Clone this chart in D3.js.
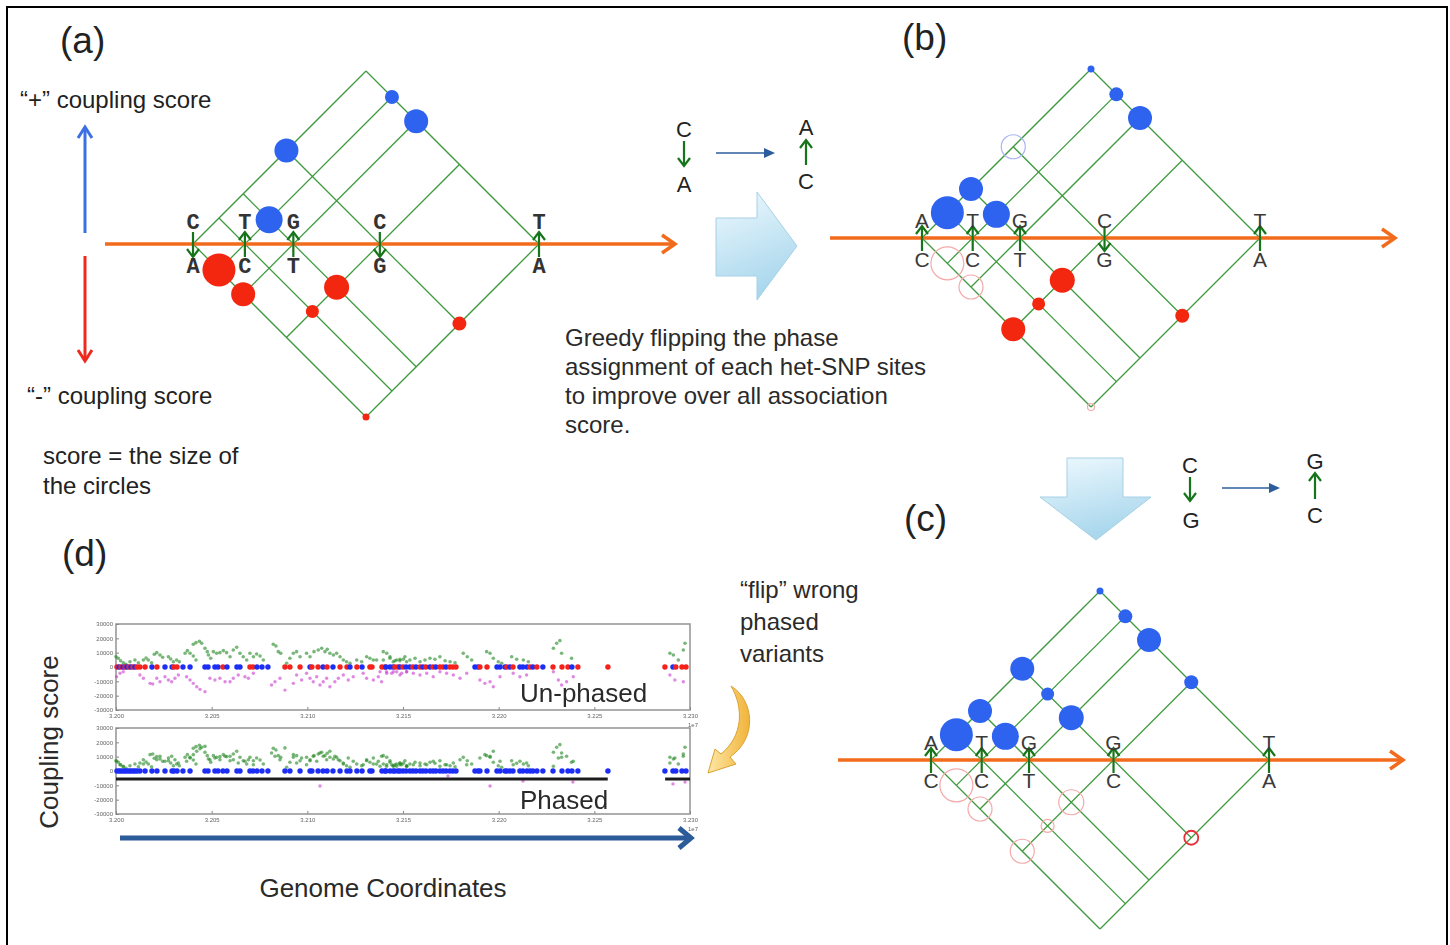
<!DOCTYPE html>
<html>
<head>
<meta charset="utf-8">
<script src="https://cdn.jsdelivr.net/npm/d3@7"></script>
<style>
  body { margin: 0; background: #fff; }
  svg text { font-family: "Liberation Sans", Arial, Helvetica, sans-serif; fill: #222; }
</style>
</head>
<body>
<svg id="fig" width="1450" height="945"></svg>
<script>
// ---------------- data ----------------
// relative positions (kb) of the five het-SNP sites
const snpPos = [0, 15, 29, 54, 100];
// alleles shown above / below the reference axis in the initial assignment
const hapTop = ['C', 'T', 'G', 'C', 'T'];
const hapBottom = ['A', 'C', 'T', 'G', 'A'];
// phase (arrow direction) of each site at the three stages
const phaseA = [-1, 1, 1, -1, 1];
const phaseB = [1, 1, 1, -1, 1];
const phaseC = [1, 1, 1, 1, 1];
// site pairs and their coupling score magnitude (sign comes from the phases)
const pairs = [[0,1],[0,2],[0,3],[0,4],[1,2],[1,3],[1,4],[2,3],[2,4],[3,4]];
const coupling = [33, 24, 24, 7, 27, 13, 14, 25, 24, 14];
// previous positions of pairs whose sign changed: [i, j, previous sign]
const ghostB = [[0,1,-1],[0,2,-1],[0,3,1],[0,4,-1]];
const ghostC = [[0,1,-1],[0,2,-1],[0,3,-1],[1,3,-1],[2,3,-1],[3,4,-1]];
const lastFlipC = [[3,4]];

// panel (d): genome position in kb after 32,000 kb, coupling score in thousands
const siteRow = [
  [0.5,-1],[1.6,1],[2.6,-1],[3.7,1],[4.7,-1],[5.7,1],[6.8,-1],[7.8,1],[8.9,-1],[9.9,1],[11.0,-1],[12.5,-1],
  [15.2,-1],[18.8,1],[21.4,-1],[25.6,1],[29.3,1],[30.3,-1],[31.9,-1],[35.0,1],[38.7,1],[46.5,1],[48.1,1],
  [51.7,1],[53.3,1],[55.9,-1],[58.0,1],[63.2,1],[64.8,1],[70.0,-1],[71.6,-1],[73.7,1],[76.3,1],[79.4,1],
  [88.3,-1],[90.9,-1],[96.2,-1],[101.4,1],[102.4,-1],[105.6,-1],[108.2,1],[110.3,-1],[113.4,1],[117.1,-1],
  [120.7,-1],[122.3,1],[125.9,-1],[128.6,1],[132.7,-1],[133.8,-1],[139.0,-1],[140.6,-1],[141.1,1],[143.2,1],
  [144.8,1],[145.8,-1],[147.4,-1],[148.4,1],[150.0,-1],[151.6,1],[153.6,1],[155.2,-1],[156.8,1],[158.9,-1],
  [160.4,1],[162.0,-1],[164.1,1],[165.7,-1],[167.2,1],[169.3,-1],[170.9,-1],[172.5,1],[174.5,-1],[176.1,-1],
  [177.7,-1],[187.6,1],[189.2,1],[190.2,-1],[193.9,-1],[199.1,1],[200.7,1],[203.3,1],[204.3,-1],[205.9,1],
  [207.5,-1],[211.1,1],[212.7,1],[214.8,1],[216.4,-1],[217.9,1],[220.0,-1],[223.1,1],[228.4,-1],[233.1,-1],
  [236.2,-1],[238.3,1],[241.4,-1],[257.1,-1],[286.9,-1],[291.1,1],[292.6,-1],[295.8,-1],[297.9,-1]
];
const unphasedPos = [
  [0.0,7.2],[1.2,6.1],[2.4,4.4],[3.8,3.0],[5.2,1.9],[7.3,3.7],[9.9,4.9],[11.7,3.0],[14.3,4.9],[15.7,6.3],
  [16.9,4.9],[18.6,3.0],[20.0,8.9],[21.3,10.0],[23.0,8.4],[24.4,6.8],[27.4,7.2],[28.6,5.6],[30.0,3.7],
  [31.7,4.9],[33.1,3.7],[36.1,9.6],[37.3,11.4],[38.7,9.6],[40.4,7.7],[41.8,4.9],[40.4,15.9],[41.8,17.0],
  [43.6,18.0],[44.8,16.6],[46.5,13.1],[47.7,10.7],[48.3,8.4],[49.5,6.1],[50.9,10.7],[52.6,9.6],[54.3,10.0],
  [56.1,11.4],[57.8,10.0],[59.6,7.2],[61.3,11.9],[63.1,13.8],[64.8,9.6],[66.5,7.2],[68.3,4.9],[70.0,9.6],
  [71.8,7.2],[73.5,9.1],[75.3,7.7],[77.0,4.9],[82.2,15.9],[83.6,14.7],[84.8,10.7],[86.1,9.6],[89.2,2.6],
  [90.9,6.1],[92.7,9.6],[94.4,10.7],[96.2,7.2],[99.6,9.6],[101.4,7.2],[103.5,10.7],[105.7,11.9],[107.5,13.1],
  [109.2,10.7],[110.4,12.4],[111.8,9.6],[113.6,8.4],[115.3,9.6],[117.1,7.2],[118.8,4.9],[120.5,3.7],
  [122.3,2.6],[125.8,4.9],[128.4,3.7],[131.0,7.2],[132.7,6.1],[134.5,4.9],[136.2,4.9],[139.7,10.7],
  [141.5,9.6],[143.2,7.2],[144.9,3.7],[146.7,4.9],[148.4,4.4],[150.2,5.4],[151.9,3.7],[139.7,4.9],
  [143.2,6.1],[145.8,4.4],[148.4,5.4],[151.0,7.2],[153.6,4.9],[156.3,6.1],[158.9,3.7],[161.5,4.9],
  [164.1,6.1],[166.7,5.4],[169.3,7.2],[172.0,4.4],[174.6,3.7],[177.2,3.0],[181.5,9.6],[183.6,7.2],
  [185.9,4.9],[193.7,10.7],[195.5,9.6],[197.2,6.1],[199.8,3.7],[201.6,2.6],[206.8,7.2],[209.4,5.4],
  [212.9,4.9],[215.5,3.7],[228.6,13.1],[230.3,16.6],[232.0,18.4],[232.9,9.6],[238.1,6.1],[289.5,9.6],
  [291.3,8.4],[293.9,4.9],[296.5,11.9],[297.4,16.6]
];
const unphasedNeg = [
  [0.3,-6.8],[2.1,-4.4],[3.8,-3.3],[12.5,-5.6],[14.3,-7.9],[17.8,-11.4],[19.2,-11.9],[21.3,-7.9],[23.0,-10.3],
  [25.6,-6.8],[27.4,-9.1],[29.1,-10.3],[30.8,-7.9],[32.6,-5.6],[36.9,-6.8],[38.7,-9.1],[40.4,-11.4],
  [42.2,-13.8],[43.9,-15.6],[46.5,-17.2],[49.1,-7.9],[51.7,-9.1],[54.3,-7.9],[57.0,-10.3],[59.6,-10.3],
  [61.3,-7.9],[63.9,-5.6],[67.4,-6.8],[69.2,-7.9],[71.8,-4.4],[81.3,-12.6],[83.1,-10.3],[85.7,-7.9],
  [88.3,-16.1],[92.7,-11.4],[94.4,-5.6],[97.0,-9.1],[99.6,-4.4],[101.4,-7.9],[103.1,-10.3],[104.9,-6.8],
  [106.6,-12.6],[108.3,-10.3],[110.1,-7.9],[111.8,-13.8],[114.4,-10.3],[116.2,-7.9],[118.8,-5.6],
  [121.4,-9.1],[124.0,-6.8],[129.2,-4.4],[131.0,-7.9],[134.5,-9.1],[137.1,-6.8],[138.8,-10.3],[141.4,-3.3],
  [144.1,-4.4],[146.7,-3.3],[149.3,-4.4],[151.9,-3.3],[138.0,-3.3],[141.5,-4.4],[145.0,-3.3],[148.4,-5.6],
  [151.9,-3.3],[155.4,-4.4],[158.9,-5.6],[162.4,-4.4],[165.8,-6.8],[169.3,-3.3],[172.8,-4.4],[176.3,-5.6],
  [179.8,-7.9],[183.3,-4.4],[190.2,-9.1],[192.8,-11.4],[195.5,-10.3],[197.2,-13.8],[200.7,-6.8],
  [207.6,-4.4],[211.1,-6.8],[214.6,-5.6],[228.6,-3.3],[231.2,-9.1],[232.9,-12.6],[235.5,-10.3],
  [239.0,-6.8],[289.5,-5.6],[292.1,-9.1],[296.5,-10.3]
];
// after phasing the negative couplings turn positive
const phasedPos = unphasedPos.concat(unphasedNeg.map(([p, v]) => [p, -v]));
const phasedNeg = [[106.6,-10.5],[173.5,-3.5],[195.5,-10.5],[212.7,-7.0],[238.8,-7.7],[291.1,-9.0],[297.4,-7.7]];
// phased blocks (kb ranges) drawn as a bar below zero
const phasedBlocks = [[0, 257], [287, 300]];
const blockScore = -5.6;
const yTicks = [-30, -20, -10, 0, 10, 20, 30];
const xTicks = [0, 50, 100, 150, 200, 250, 300];

// ---------------- drawing ----------------
const svg = d3.select('#fig');
const defs = svg.append('defs');
const bg = defs.append('linearGradient').attr('id', 'blockGrad')
  .attr('x1', 0).attr('y1', 0).attr('x2', 0.3).attr('y2', 1);
bg.append('stop').attr('offset', 0).attr('stop-color', '#eef9fe');
bg.append('stop').attr('offset', 1).attr('stop-color', '#a9d7ed');
const gg = defs.append('linearGradient').attr('id', 'goldGrad')
  .attr('x1', 0).attr('y1', 0).attr('x2', 1).attr('y2', 0);
gg.append('stop').attr('offset', 0).attr('stop-color', '#fde7a6');
gg.append('stop').attr('offset', 1).attr('stop-color', '#f1b43a');
defs.append('filter').attr('id', 'soft').append('feGaussianBlur').attr('stdDeviation', 0.55);

svg.append('rect').attr('x', 0).attr('y', 0).attr('width', 1450).attr('height', 945).attr('fill', '#fff');
svg.append('rect').attr('x', 7).attr('y', 7).attr('width', 1440).attr('height', 950)
  .attr('fill', 'none').attr('stroke', '#000').attr('stroke-width', 2);

const BLUE = '#2e63f0', RED = '#f3260f', SNPGREEN = '#16741a', GRID = '#3f9a3f', ORANGE = '#f26b1d';

function text(g, x, y, s, size, opts = {}) {
  const t = g.append('text').attr('x', x).attr('y', y).attr('font-size', size).text(s);
  if (opts.anchor) t.attr('text-anchor', opts.anchor);
  if (opts.family) t.style('font-family', opts.family);
  if (opts.weight) t.attr('font-weight', opts.weight);
  if (opts.fill) t.style('fill', opts.fill);
  return t;
}

// vertical arrow with an open chevron head
function vArrow(g, x, yTail, yHead, color, width, hw, hl) {
  const d = yHead < yTail ? 1 : -1;
  g.append('line').attr('x1', x).attr('x2', x).attr('y1', yTail).attr('y2', yHead)
    .attr('stroke', color).attr('stroke-width', width);
  g.append('path').attr('d', `M${x - hw},${yHead + d * hl} L${x},${yHead} L${x + hw},${yHead + d * hl}`)
    .attr('fill', 'none').attr('stroke', color).attr('stroke-width', width).attr('stroke-linejoin', 'miter');
}

// thin horizontal arrow with filled head
function hArrow(g, x0, x1, y, color) {
  g.append('line').attr('x1', x0).attr('x2', x1 - 8).attr('y1', y).attr('y2', y)
    .attr('stroke', color).attr('stroke-width', 1.6);
  g.append('path').attr('d', `M${x1},${y} L${x1 - 11},${y - 5} L${x1 - 11},${y + 5} Z`).attr('fill', color);
}

const rScale = d3.scaleLinear().domain([0, 34]).range([0, 17]);

function drawDiamond(cfg) {
  const g = svg.append('g');
  const x = d3.scaleLinear().domain([0, 100]).range([cfg.x0, cfg.x1]);
  const Y = cfg.y;
  const xs = snpPos.map(x);
  const xa = xs[0], xb = xs[xs.length - 1];

  // two diagonal grid lines through every site, clipped to the diamond
  const segs = [];
  xs.forEach(xi => {
    segs.push([(xa + xi) / 2, Y + (xi - xa) / 2, (xi + xb) / 2, Y - (xb - xi) / 2]);
    segs.push([(xa + xi) / 2, Y - (xi - xa) / 2, (xi + xb) / 2, Y + (xb - xi) / 2]);
  });
  g.selectAll('line.grid').data(segs).join('line').attr('class', 'grid')
    .attr('x1', d => d[0]).attr('y1', d => d[1]).attr('x2', d => d[2]).attr('y2', d => d[3])
    .attr('stroke', GRID).attr('stroke-width', 1.3);

  const scoreOf = (i, j) => coupling[pairs.findIndex(p => p[0] === i && p[1] === j)];
  const pos = (i, j, s) => [(xs[i] + xs[j]) / 2, Y - s * (xs[j] - xs[i]) / 2];
  const isStrong = d => (cfg.strong || []).some(s => s[0] === d[0] && s[1] === d[1]);

  // faded rings where a pair sat before the flip
  const ghosts = cfg.ghosts || [];
  g.selectAll('circle.ghost').data(ghosts).join('circle').attr('class', 'ghost')
    .attr('cx', d => pos(d[0], d[1], d[2])[0]).attr('cy', d => pos(d[0], d[1], d[2])[1])
    .attr('r', d => rScale(scoreOf(d[0], d[1])))
    .attr('fill', 'none')
    .attr('stroke', d => (isStrong(d) ? '#e8303a' : d[2] > 0 ? '#aab4f2' : '#f4aaaa'))
    .attr('stroke-width', d => (isStrong(d) ? 1.8 : 1.2));

  // coupling circles: above the axis when positive, below when negative
  const circ = pairs.map((p, k) => {
    const s = cfg.phase[p[0]] * cfg.phase[p[1]];
    const [cx, cy] = pos(p[0], p[1], s);
    return { cx, cy, r: rScale(coupling[k]), s };
  });
  g.selectAll('circle.score').data(circ).join('circle').attr('class', 'score')
    .attr('cx', d => d.cx).attr('cy', d => d.cy).attr('r', d => d.r)
    .attr('fill', d => (d.s > 0 ? BLUE : RED));

  // genome axis
  g.append('line').attr('x1', cfg.axis0).attr('x2', cfg.axis1 - 1).attr('y1', Y).attr('y2', Y)
    .attr('stroke', ORANGE).attr('stroke-width', 3.5);
  g.append('path').attr('d', `M${cfg.axis1 - 13},${Y - 9} L${cfg.axis1},${Y} L${cfg.axis1 - 13},${Y + 9}`)
    .attr('fill', 'none').attr('stroke', ORANGE).attr('stroke-width', 3.5);

  // site alleles and phase arrows
  xs.forEach((xi, i) => {
    const p = cfg.phase[i];
    const same = p === phaseA[i];
    const top = same ? hapTop[i] : hapBottom[i];
    const bot = same ? hapBottom[i] : hapTop[i];
    if (p > 0) vArrow(g, xi, Y + 13, Y - 12, SNPGREEN, 2.2, 6, 8);
    else vArrow(g, xi, Y - 12, Y + 13, SNPGREEN, 2.2, 6, 8);
    const o = { anchor: 'middle', family: cfg.mono ? '"Liberation Mono", "Courier New", monospace' : null,
                weight: cfg.mono ? 'bold' : null, fill: cfg.mono ? '#333' : '#3a3a3a' };
    text(g, xi, Y + cfg.topDy, top, cfg.fs, o);
    text(g, xi, Y + cfg.botDy, bot, cfg.fs, o);
  });
}

drawDiamond({ x0: 193, x1: 539, y: 244, axis0: 105, axis1: 675, phase: phaseA, mono: true,
  fs: 22, topDy: -15, botDy: 29 });
drawDiamond({ x0: 922, x1: 1260, y: 238, axis0: 830, axis1: 1395, phase: phaseB, ghosts: ghostB,
  fs: 21, topDy: -10, botDy: 29 });
drawDiamond({ x0: 931, x1: 1269, y: 760, axis0: 838, axis1: 1403, phase: phaseC, ghosts: ghostC,
  strong: lastFlipC, fs: 21, topDy: -10, botDy: 28 });

// panel labels
const lab = svg.append('g');
text(lab, 60, 53, '(a)', 37);
text(lab, 902, 50, '(b)', 37);
text(lab, 904, 531, '(c)', 37);
text(lab, 62, 566, '(d)', 37);

// legend of panel (a)
const leg = svg.append('g');
text(leg, 20, 108, '\u201C+\u201D coupling score', 24);
vArrow(leg, 85, 233, 127, '#3b6fe6', 3, 7, 11);
vArrow(leg, 85, 256, 361, '#ee2a1e', 3, 7, 11);
text(leg, 27, 404, '\u201C-\u201D coupling score', 24);
text(leg, 43, 464, 'score = the size of', 24);
text(leg, 43, 494, 'the circles', 24);

// flip illustrations
const fl = svg.append('g');
text(fl, 684, 137, 'C', 22, { anchor: 'middle' });
vArrow(fl, 684, 141, 166, SNPGREEN, 2.2, 6, 8);
text(fl, 684, 192, 'A', 22, { anchor: 'middle' });
hArrow(fl, 716, 775, 153, '#2c5c9c');
text(fl, 806, 135, 'A', 22, { anchor: 'middle' });
vArrow(fl, 806, 165, 140, SNPGREEN, 2.2, 6, 8);
text(fl, 806, 189, 'C', 22, { anchor: 'middle' });

text(fl, 1190, 473, 'C', 22, { anchor: 'middle' });
vArrow(fl, 1190, 477, 501, SNPGREEN, 2.2, 6, 8);
text(fl, 1191, 528, 'G', 22, { anchor: 'middle' });
hArrow(fl, 1222, 1280, 488, '#2c5c9c');
text(fl, 1315, 469, 'G', 22, { anchor: 'middle' });
vArrow(fl, 1315, 499, 473, SNPGREEN, 2.2, 6, 8);
text(fl, 1315, 523, 'C', 22, { anchor: 'middle' });

// block arrows
svg.append('path').attr('d', 'M716,218 L757,218 L757,192 L797,246 L757,300 L757,276 L716,276 Z')
  .attr('fill', 'url(#blockGrad)').attr('stroke', '#a6d0e4').attr('stroke-width', 1);
svg.append('path').attr('d', 'M1067,458 L1123,458 L1123,497 L1151,497 L1096,540 L1040,497 L1067,497 Z')
  .attr('fill', 'url(#blockGrad)').attr('stroke', '#a6d0e4').attr('stroke-width', 1);

// description texts
const desc = svg.append('g');
['Greedy flipping the phase', 'assignment of each het-SNP sites', 'to improve over all association', 'score.']
  .forEach((s, i) => text(desc, 565, 346 + i * 29, s, 24, { fill: '#2a2a2a' }));
['\u201Cflip\u201D wrong', 'phased', 'variants']
  .forEach((s, i) => text(desc, 740, 598 + i * 32, s, 24, { fill: '#2a2a2a' }));

// curved "flip" arrow
svg.append('path')
  .attr('d', 'M731,686 C754,700 758,738 730,757 L736,764 L708,773 L715,749 L721,754 C743,736 744,708 731,686 Z')
  .attr('fill', 'url(#goldGrad)').attr('stroke', '#d9a232').attr('stroke-width', 1);

// ---------------- panel (d) scatter insets ----------------
const dX = d3.scaleLinear().domain([0, 300]).range([116, 690]);
const pd = svg.append('g').attr('filter', 'url(#soft)');

function inset(top, bottom, pos, neg, phased, label, labelY) {
  const y = d3.scaleLinear().domain([-30, 30]).range([bottom, top]);
  const g = pd.append('g');
  g.append('rect').attr('x', dX.range()[0]).attr('y', top)
    .attr('width', dX.range()[1] - dX.range()[0]).attr('height', bottom - top)
    .attr('fill', '#fff').attr('stroke', '#9a9a9a').attr('stroke-width', 1.6);

  const ax = g.append('g').attr('transform', `translate(${dX.range()[0]},0)`)
    .call(d3.axisLeft(y).tickValues(yTicks).tickSize(-3).tickPadding(3).tickFormat(d => d * 1000));
  const bx = g.append('g').attr('transform', `translate(0,${bottom})`)
    .call(d3.axisBottom(dX).tickValues(xTicks).tickSize(-3).tickPadding(4)
      .tickFormat(d => ((32000 + d) / 10000).toFixed(3)));
  [ax, bx].forEach(a => {
    a.attr('font-size', 6).attr('font-family', '"Liberation Sans", Arial, sans-serif');
    a.select('.domain').remove();
    a.selectAll('line').attr('stroke', '#888');
    a.selectAll('text').style('fill', '#666');
  });
  text(g, 688, bottom + 17, '1e7', 6, { fill: '#666' });

  g.selectAll('circle.neg').data(neg).join('circle').attr('class', 'neg')
    .attr('cx', d => dX(d[0])).attr('cy', d => y(d[1])).attr('r', 1.7)
    .attr('fill', '#c93bd0').attr('fill-opacity', 0.6);
  g.selectAll('circle.pos').data(pos).join('circle').attr('class', 'pos')
    .attr('cx', d => dX(d[0])).attr('cy', d => y(d[1])).attr('r', 1.8)
    .attr('fill', '#1f861f').attr('fill-opacity', 0.6);
  if (phased) {
    g.selectAll('line.block').data(phasedBlocks).join('line').attr('class', 'block')
      .attr('x1', d => dX(d[0])).attr('x2', d => dX(d[1]))
      .attr('y1', y(blockScore)).attr('y2', y(blockScore))
      .attr('stroke', '#1a1a1a').attr('stroke-width', 3);
  }
  g.selectAll('circle.site').data(siteRow).join('circle').attr('class', 'site')
    .attr('cx', d => dX(d[0])).attr('cy', y(0)).attr('r', 2.7)
    .attr('fill', d => (phased || d[1] > 0 ? '#1f2ff5' : '#f5201c'));
  text(g, 520, labelY, label, 26, { fill: '#2a2a2a' });
}

inset(624, 710, unphasedPos, unphasedNeg, false, 'Un-phased', 702);
inset(728, 814, phasedPos, phasedNeg, true, 'Phased', 809);

// genome coordinate arrow and axis titles
const ga = svg.append('g');
ga.append('line').attr('x1', 120).attr('x2', 687).attr('y1', 838).attr('y2', 838)
  .attr('stroke', '#2b5b98').attr('stroke-width', 5);
ga.append('path').attr('d', 'M679,828 L691,838 L679,848').attr('fill', 'none')
  .attr('stroke', '#2b5b98').attr('stroke-width', 5);
text(ga, 383, 897, 'Genome Coordinates', 26, { anchor: 'middle', fill: '#2a2a2a' });
text(ga, 0, 0, 'Coupling score', 26, { anchor: 'middle', fill: '#2a2a2a' })
  .attr('transform', 'translate(58,742) rotate(-90)');
</script>
</body>
</html>
